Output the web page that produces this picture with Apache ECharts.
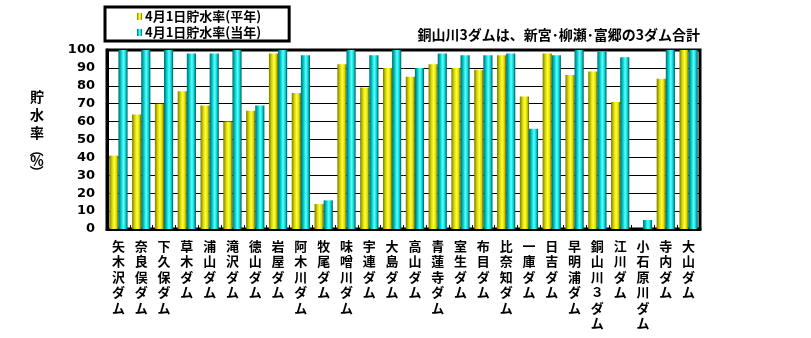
<!DOCTYPE html>
<html><head><meta charset="utf-8">
<script src="https://cdn.jsdelivr.net/npm/echarts@6/dist/echarts.min.js"></script>
<style>html,body{margin:0;padding:0;background:#fff}#c{width:811px;height:338px}</style>
</head><body><div id="c"></div>
<script>
const categories = ['矢木沢ダム','奈良俣ダム','下久保ダム','草木ダム','浦山ダム','滝沢ダム','徳山ダム','岩屋ダム','阿木川ダム','牧尾ダム','味噌川ダム','宇連ダム','大島ダム','高山ダム','青蓮寺ダム','室生ダム','布目ダム','比奈知ダム','一庫ダム','日吉ダム','早明浦ダム','銅山川３ダム','江川ダム','小石原川ダム','寺内ダム','大山ダム'];
const normalValues = [41,64,70,77,69,60,66,98,76,14,92,79,90,85,92,90,89,97,74,98,86,88,71,0,84,100];
const currentValues = [100,100,100,98,98,100,69,100,97,16,100,97,100,90,98,97,97,98,56,97,100,99,96,5,100,100];
const seriesNames = ['4月1日貯水率(平年)','4月1日貯水率(当年)'];
const yTicks = {min:0,max:100,interval:10};
const noteText = '銅山川3ダムは、新宮･柳瀬･富郷の3ダム合計';
const yNameChars = ['貯','水','率','（','%','）'];

const FONT = '"Noto Sans CJK JP", sans-serif';
function grad(dark, mid, bright, dark2){
  return new echarts.graphic.LinearGradient(0,0,1,0,[
    {offset:0,color:dark},{offset:0.3,color:mid},{offset:0.55,color:bright},{offset:0.8,color:mid},{offset:1,color:dark2}]);
}
const yellow = grad('#7a7a00','#d8d800','#ffff40','#5a5a00');
const cyan = grad('#006a6a','#00d0d0','#60ffff','#005050');

// vertical axis name, stacked characters (parentheses turned for vertical writing)
const nameY = [97,115,133,150,161,172];
const nameGraphics = yNameChars.map((ch,i)=>{
  const paren = (ch==='（'||ch==='）');
  return {
    type:'text', x:37, y:nameY[i], rotation: paren ? -Math.PI/2 : 0,
    style:{text:ch,font:'bold 14px '+FONT,fill:'#000',align:'center',verticalAlign:'middle'}
  };
});

const chart = echarts.init(document.getElementById('c'), null, {renderer:'canvas'});
chart.setOption({
  animation:false,
  backgroundColor:'#fff',
  textStyle:{fontFamily:FONT},
  grid:{left:107,right:111,top:50,bottom:109,show:true,borderColor:'#000',borderWidth:3,containLabel:false},
  legend:{
    data:seriesNames, orient:'vertical', left:105, top:7,
    backgroundColor:'#fff', borderColor:'#000', borderWidth:3,
    padding:[3,28,2,32], itemGap:3, itemWidth:5, itemHeight:7, icon:'rect',
    textStyle:{fontFamily:FONT,fontSize:13,fontWeight:'bold',color:'#000',padding:[0,0,0,-2]}
  },
  graphic:[
    {type:'text',right:111,top:28,style:{text:noteText,font:'bold 14px '+FONT,fill:'#000'}}
  ].concat(nameGraphics),
  xAxis:{
    type:'category', data:categories,
    axisLine:{lineStyle:{color:'#000',width:3}},
    axisTick:{show:true,inside:true,length:4,lineStyle:{color:'#000'}},
    axisLabel:{interval:0,margin:9,color:'#000',fontSize:13,fontWeight:'bold',lineHeight:15.5,verticalAlign:'top',
      formatter:v=>v.split('').join('\n')}
  },
  yAxis:{
    type:'value', min:yTicks.min, max:yTicks.max, interval:yTicks.interval,
    axisLine:{show:true,lineStyle:{color:'#000',width:3}},
    axisTick:{show:true,inside:true,length:5,lineStyle:{color:'#000'}},
    axisLabel:{color:'#000',fontSize:13,fontWeight:'bold',margin:12,fontFamily:'"DejaVu Sans", sans-serif'},
    splitLine:{lineStyle:{color:'#000',width:1}}
  },
  series:[
    {name:seriesNames[0],type:'bar',data:normalValues,barGap:'0%',barCategoryGap:'20%',itemStyle:{color:yellow}},
    {name:seriesNames[1],type:'bar',data:currentValues,barGap:'0%',barCategoryGap:'20%',itemStyle:{color:cyan}}
  ]
});
</script></body></html>
